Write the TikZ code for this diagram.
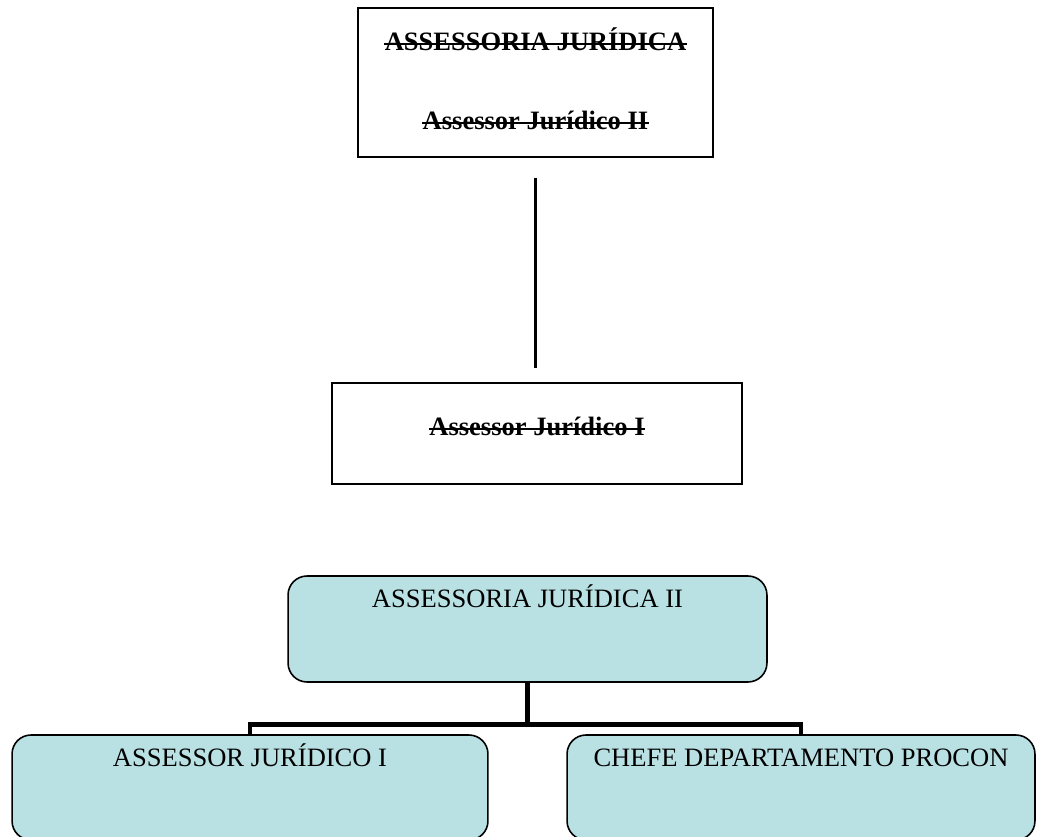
\documentclass[tikz,border=0pt]{standalone}
\usepackage{fontspec}
\setmainfont{Liberation Serif}
\definecolor{boxblue}{RGB}{185,224,227}

\tikzset{
  plainbox/.style={draw, line width=1.1pt, inner sep=0pt},
  roundbox/.style={draw, line width=0.9pt, fill=boxblue, rounded corners=0.38cm, inner sep=0pt},
  label text/.style={inner sep=0pt, anchor=base, font=\fontsize{15.1pt}{18pt}\selectfont},
  old text/.style={label text, font=\fontsize{15.1pt}{18pt}\selectfont\bfseries},
  strike/.style={line width=1.1pt},
  tree line/.style={line width=2.8pt, line join=miter},
}

\begin{document}
\begin{tikzpicture}[x=0.02cm, y=-0.02cm]

% Page size of the reference
\path[use as bounding box] (0,0) rectangle (1038,837);
\clip (0,0) rectangle (1038,837);

% Old chart, struck through
\node[plainbox, minimum width=7.1cm, minimum height=2.98cm] (assessoria) at (535.5,82.5) {};
\node[old text] (assessoriaTxt) at ([yshift=-0.86cm]assessoria.north) {ASSESSORIA JURÍDICA};
\node[old text] (assessorII) at ([yshift=-2.44cm]assessoria.north) {Assessor Jurídico II};

\node[plainbox, minimum width=8.2cm, minimum height=2.02cm] (assessorBox) at (537,433.5) {};
\node[old text] (assessorI) at ([yshift=-1.06cm]assessorBox.north) {Assessor Jurídico I};

\foreach \t in {assessoriaTxt, assessorII, assessorI}
  \draw[strike] ([yshift=0.12cm]\t.base west) -- ([yshift=0.12cm]\t.base east);

\draw[line width=1.5pt, shorten <=0.4cm, shorten >=0.28cm] (assessoria.south) -- (assessoria.south |- assessorBox.north);

% New chart
\node[roundbox, minimum width=9.58cm, minimum height=2.12cm] (root) at (527.5,629) {};
\node[label text] (rootTxt) at ([yshift=-0.64cm]root.north) {ASSESSORIA JURÍDICA II};

\node[roundbox, minimum width=9.52cm, minimum height=2.1cm] (left) at (250,787.5) {};
\node[label text] (leftTxt) at ([yshift=-0.64cm]left.north) {ASSESSOR JURÍDICO I};

\node[roundbox, minimum width=9.36cm, minimum height=2.1cm] (right) at (801,787.5) {};
\node[label text] (rightTxt) at ([yshift=-0.64cm]right.north) {CHEFE DEPARTAMENTO PROCON};

% Connectors
\draw[tree line] (root.south) -- ++(0,42) -| (left.north);
\draw[tree line] (root.south) -- ++(0,42) -| (right.north);

\end{tikzpicture}
\end{document}
